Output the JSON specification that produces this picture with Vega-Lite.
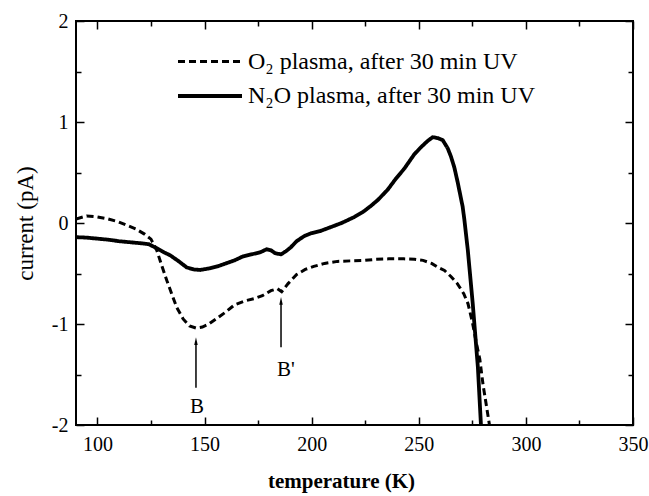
{
  "$schema": "https://vega.github.io/schema/vega-lite/v6.json",
  "width": 557,
  "height": 404,
  "autosize": "none",
  "padding": {"left": 76, "top": 21, "right": 16, "bottom": 71},
  "background": "white",
  "config": {
    "view": {"stroke": "black", "strokeWidth": 2},
    "font": "Liberation Serif",
    "axis": {"domain": false, "grid": false, "tickColor": "black", "tickWidth": 1.5, "labelColor": "black", "titleColor": "black", "labelFont": "Liberation Serif", "titleFont": "Liberation Serif"}
  },
  "datasets": {
    "curves": [
      {"T": 90, "I": 0.04, "s": "O2"}, {"T": 95, "I": 0.07, "s": "O2"}, {"T": 100, "I": 0.06, "s": "O2"}, {"T": 105, "I": 0.04, "s": "O2"},
      {"T": 110, "I": 0.01, "s": "O2"}, {"T": 114, "I": -0.025, "s": "O2"}, {"T": 118, "I": -0.06, "s": "O2"}, {"T": 122, "I": -0.11, "s": "O2"},
      {"T": 125, "I": -0.16, "s": "O2"}, {"T": 127.7, "I": -0.27, "s": "O2"}, {"T": 130, "I": -0.42, "s": "O2"}, {"T": 132.4, "I": -0.57, "s": "O2"},
      {"T": 135, "I": -0.72, "s": "O2"}, {"T": 137, "I": -0.835, "s": "O2"}, {"T": 140, "I": -0.95, "s": "O2"}, {"T": 143, "I": -1.02, "s": "O2"},
      {"T": 146, "I": -1.04, "s": "O2"}, {"T": 149, "I": -1.03, "s": "O2"}, {"T": 152, "I": -1.0, "s": "O2"}, {"T": 156, "I": -0.94, "s": "O2"},
      {"T": 160, "I": -0.88, "s": "O2"}, {"T": 164, "I": -0.81, "s": "O2"}, {"T": 169, "I": -0.77, "s": "O2"}, {"T": 173, "I": -0.75, "s": "O2"},
      {"T": 177, "I": -0.72, "s": "O2"}, {"T": 181, "I": -0.67, "s": "O2"}, {"T": 184, "I": -0.65, "s": "O2"}, {"T": 186, "I": -0.68, "s": "O2"},
      {"T": 189, "I": -0.6, "s": "O2"}, {"T": 193, "I": -0.51, "s": "O2"}, {"T": 197, "I": -0.46, "s": "O2"}, {"T": 201, "I": -0.43, "s": "O2"},
      {"T": 206, "I": -0.4, "s": "O2"}, {"T": 212, "I": -0.38, "s": "O2"}, {"T": 218, "I": -0.375, "s": "O2"}, {"T": 225, "I": -0.37, "s": "O2"},
      {"T": 230, "I": -0.36, "s": "O2"}, {"T": 236, "I": -0.355, "s": "O2"}, {"T": 243, "I": -0.355, "s": "O2"}, {"T": 248, "I": -0.36, "s": "O2"},
      {"T": 252, "I": -0.37, "s": "O2"}, {"T": 256, "I": -0.4, "s": "O2"}, {"T": 259, "I": -0.44, "s": "O2"}, {"T": 262, "I": -0.47, "s": "O2"},
      {"T": 265, "I": -0.53, "s": "O2"}, {"T": 268, "I": -0.6, "s": "O2"}, {"T": 271, "I": -0.7, "s": "O2"}, {"T": 273, "I": -0.8, "s": "O2"},
      {"T": 275, "I": -0.98, "s": "O2"}, {"T": 277, "I": -1.2, "s": "O2"}, {"T": 278.5, "I": -1.35, "s": "O2"}, {"T": 280, "I": -1.6, "s": "O2"},
      {"T": 281.5, "I": -1.8, "s": "O2"}, {"T": 283, "I": -2.0, "s": "O2"}, {"T": 284, "I": -2.15, "s": "O2"},
      {"T": 90, "I": -0.14, "s": "N2O"}, {"T": 95, "I": -0.145, "s": "N2O"}, {"T": 100, "I": -0.155, "s": "N2O"}, {"T": 105, "I": -0.165, "s": "N2O"},
      {"T": 110, "I": -0.18, "s": "N2O"}, {"T": 115, "I": -0.19, "s": "N2O"}, {"T": 120, "I": -0.2, "s": "N2O"}, {"T": 124, "I": -0.21, "s": "N2O"},
      {"T": 127.7, "I": -0.25, "s": "N2O"}, {"T": 131, "I": -0.29, "s": "N2O"}, {"T": 134, "I": -0.32, "s": "N2O"}, {"T": 138, "I": -0.38, "s": "N2O"},
      {"T": 141.7, "I": -0.44, "s": "N2O"}, {"T": 145, "I": -0.46, "s": "N2O"}, {"T": 148, "I": -0.465, "s": "N2O"}, {"T": 152, "I": -0.45, "s": "N2O"},
      {"T": 156, "I": -0.43, "s": "N2O"}, {"T": 160, "I": -0.4, "s": "N2O"}, {"T": 164, "I": -0.37, "s": "N2O"}, {"T": 168, "I": -0.33, "s": "N2O"},
      {"T": 172, "I": -0.31, "s": "N2O"}, {"T": 176, "I": -0.29, "s": "N2O"}, {"T": 179, "I": -0.26, "s": "N2O"}, {"T": 181, "I": -0.27, "s": "N2O"},
      {"T": 183, "I": -0.3, "s": "N2O"}, {"T": 185.7, "I": -0.31, "s": "N2O"}, {"T": 188, "I": -0.28, "s": "N2O"}, {"T": 190.3, "I": -0.24, "s": "N2O"},
      {"T": 193, "I": -0.18, "s": "N2O"}, {"T": 196.5, "I": -0.13, "s": "N2O"}, {"T": 200, "I": -0.1, "s": "N2O"}, {"T": 204, "I": -0.08, "s": "N2O"},
      {"T": 209, "I": -0.04, "s": "N2O"}, {"T": 214, "I": 0.0, "s": "N2O"}, {"T": 220, "I": 0.06, "s": "N2O"}, {"T": 224, "I": 0.11, "s": "N2O"},
      {"T": 227.7, "I": 0.17, "s": "N2O"}, {"T": 231, "I": 0.23, "s": "N2O"}, {"T": 235.5, "I": 0.33, "s": "N2O"}, {"T": 239, "I": 0.43, "s": "N2O"},
      {"T": 243.3, "I": 0.54, "s": "N2O"}, {"T": 247.9, "I": 0.68, "s": "N2O"}, {"T": 251, "I": 0.75, "s": "N2O"}, {"T": 254, "I": 0.81, "s": "N2O"},
      {"T": 256.5, "I": 0.85, "s": "N2O"}, {"T": 259, "I": 0.84, "s": "N2O"}, {"T": 261.2, "I": 0.82, "s": "N2O"}, {"T": 263.5, "I": 0.74, "s": "N2O"},
      {"T": 265, "I": 0.66, "s": "N2O"}, {"T": 266.6, "I": 0.55, "s": "N2O"}, {"T": 268.2, "I": 0.4, "s": "N2O"}, {"T": 270.5, "I": 0.16, "s": "N2O"},
      {"T": 271.3, "I": 0.03, "s": "N2O"}, {"T": 272.9, "I": -0.27, "s": "N2O"}, {"T": 275.2, "I": -0.8, "s": "N2O"}, {"T": 277.6, "I": -1.43, "s": "N2O"},
      {"T": 279.1, "I": -2.03, "s": "N2O"}, {"T": 279.5, "I": -2.15, "s": "N2O"}
    ],
    "arrows": [
      {"T": 146, "y1": -1.63, "y2": -1.2, "tip": -1.17, "label": "B", "ly": -1.82, "lx": 146.5},
      {"T": 185.7, "y1": -1.23, "y2": -0.8, "tip": -0.77, "label": "B'", "ly": -1.46, "lx": 188}
    ]
  },
  "layer": [
    {
      "data": {"name": "curves"},
      "mark": {"type": "line", "color": "black", "clip": true, "interpolate": "linear"},
      "encoding": {
        "x": {"field": "T", "type": "quantitative", "scale": {"domain": [90, 350], "nice": false, "zero": false},
          "axis": {"orient": "bottom", "values": [100, 125, 150, 175, 200, 225, 250, 275, 300, 325, 350],
            "labelExpr": "datum.value % 50 == 0 ? datum.label : ''",
            "tickSize": {"condition": {"test": "datum.value % 50 != 0", "value": -5}, "value": -8},
            "labelPadding": 17, "labelFontSize": 20, "labelFlush": false,
            "title": "temperature (K)", "titleFontSize": 21, "titleFontWeight": "bold", "titleBaseline": "alphabetic", "titleY": 62, "titleX": 265}},
        "y": {"field": "I", "type": "quantitative", "scale": {"domain": [-2, 2], "nice": false, "zero": false},
          "axis": {"orient": "left", "values": [-2, -1.5, -1, -0.5, 0, 0.5, 1, 1.5, 2],
            "labelExpr": "datum.value % 1 == 0 ? toString(datum.value) : ''",
            "tickSize": {"condition": {"test": "datum.value % 1 != 0", "value": -5}, "value": -8},
            "labelPadding": 16, "labelFontSize": 20, "labelFlush": false,
            "title": "current (pA)", "titleFontSize": 23, "titleFontWeight": "normal", "titleBaseline": "alphabetic", "titleX": -44}},
        "strokeDash": {"field": "s", "type": "nominal",
          "scale": {"domain": ["O2", "N2O"], "range": [[7, 4], [1, 0]]},
          "legend": {"orient": "none", "legendX": 116, "legendY": 23, "title": null,
            "symbolType": "M-2,0H2", "symbolSize": 1024, "symbolStrokeWidth": 2.5, "symbolStrokeColor": "black", "symbolFillColor": "transparent",
            "labelFontSize": 24, "labelFont": "Liberation Serif", "labelColor": "black", "labelOffset": 20, "labelLimit": 500, "rowPadding": 4, "padding": 0,
            "labelExpr": "datum.value == 'O2' ? 'O₂ plasma, after 30 min UV' : 'N₂O plasma, after 30 min UV'"}},
        "strokeWidth": {"field": "s", "type": "nominal", "scale": {"domain": ["O2", "N2O"], "range": [3, 3.8]}, "legend": null}
      }
    },
    {
      "data": {"name": "arrows"},
      "mark": {"type": "rule", "color": "black", "strokeWidth": 1.5},
      "encoding": {
        "x": {"field": "T", "type": "quantitative",
          "axis": {"orient": "top", "values": [100, 125, 150, 175, 200, 225, 250, 275, 300, 325, 350], "labels": false, "title": null,
            "tickSize": {"condition": {"test": "datum.value % 50 != 0", "value": -5}, "value": -8}}},
        "y": {"field": "y1", "type": "quantitative",
          "axis": {"orient": "right", "values": [-2, -1.5, -1, -0.5, 0, 0.5, 1, 1.5, 2], "labels": false, "title": null,
            "tickSize": {"condition": {"test": "datum.value % 1 != 0", "value": -5}, "value": -8}}},
        "y2": {"field": "y2"}
      }
    },
    {
      "data": {"name": "arrows"},
      "mark": {"type": "point", "shape": "M0,-1L0.45,1L-0.45,1Z", "filled": true, "color": "black", "size": 60, "opacity": 1},
      "encoding": {
        "x": {"field": "T", "type": "quantitative", "axis": null},
        "y": {"field": "tip", "type": "quantitative", "axis": null}
      }
    },
    {
      "data": {"name": "arrows"},
      "mark": {"type": "text", "font": "Liberation Serif", "fontSize": 21, "color": "black", "align": "center", "baseline": "middle"},
      "encoding": {
        "x": {"field": "lx", "type": "quantitative", "axis": null},
        "y": {"field": "ly", "type": "quantitative", "axis": null},
        "text": {"field": "label"}
      }
    }
  ],
  "resolve": {"axis": {"x": "independent", "y": "independent"}}
}
